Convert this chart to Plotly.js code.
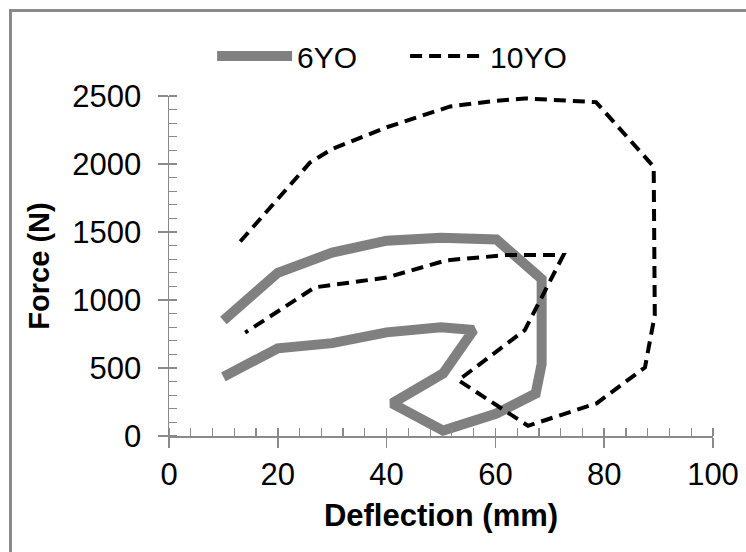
<!DOCTYPE html>
<html>
<head>
<meta charset="utf-8">
<script src="https://cdn.plot.ly/plotly-3.0.1.min.js"></script>
<style>
html,body{margin:0;padding:0;background:#fff;}
#wrap{position:relative;width:746px;height:552px;overflow:hidden;}
#chart{position:absolute;left:0;top:0;width:746px;height:552px;}
#frame{position:absolute;left:9px;top:9px;width:760px;height:570px;border:3px solid #8a8a8a;box-sizing:border-box;pointer-events:none;}
</style>
</head>
<body>
<div id="wrap"><div id="chart"></div><div id="frame"></div></div>
<script>
// Data
const seriesNames = ["6YO", "10YO"];
const defl6 = [10, 20, 30, 40, 50, 56, 50.4, 41, 50.4, 60.2, 67.4, 68.5, 68.5, 60.2, 50, 40, 30, 20, 10];
const force6 = [435, 645, 683, 762, 800, 780, 460, 240, 40, 165, 312, 530, 1155, 1445, 1458, 1436, 1348, 1200, 850];
const defl10 = [13.1, 25.9, 30, 40, 51.7, 59, 65.4, 78.5, 89.1, 89.3, 87.5, 78.6, 66, 53.2, 65.4, 72.5, 62, 51, 40, 30, 26.8, 14];
const force10 = [1430, 2010, 2110, 2270, 2423, 2460, 2482, 2455, 1980, 890, 505, 240, 75, 410, 778, 1330, 1330, 1292, 1165, 1110, 1093, 760];
const xTitle = "Deflection (mm)";
const yTitle = "Force (N)";

const axisColor = "#8a8a8a";
const fontFam = "Liberation Sans, Arial, sans-serif";

const traces = [
  {x: defl6, y: force6, name: seriesNames[0], type: "scatter", mode: "lines",
   line: {color: "#808080", width: 10}},
  {x: defl10, y: force10, name: seriesNames[1], type: "scatter", mode: "lines",
   line: {color: "#000000", width: 4, dash: "12px,7px"}},
  // invisible helper on overlay axes (for inner half of major ticks)
  {x: [0], y: [0], xaxis: "x2", yaxis: "y2", mode: "markers", marker: {opacity: 0}, showlegend: false, hoverinfo: "skip"}
];

const layout = {
  width: 746, height: 552,
  margin: {l: 169, r: 33, t: 96, b: 116},
  paper_bgcolor: "#ffffff", plot_bgcolor: "#ffffff",
  font: {family: fontFam, color: "#000"},
  showlegend: true,
  legend: {orientation: "h", x: 0.434, xanchor: "center", y: 1.118, yanchor: "middle",
           font: {family: fontFam, size: 30, color: "#000"}, itemwidth: 75, entrywidth: 103,
           bgcolor: "rgba(0,0,0,0)"},
  xaxis: {range: [0, 100], dtick: 20, tick0: 0, showgrid: false, zeroline: false,
          showline: true, linecolor: axisColor, linewidth: 1.5,
          ticks: "outside", ticklen: 10, tickwidth: 1.5, tickcolor: axisColor,
          minor: {dtick: 4, ticks: "inside", ticklen: 8, tickwidth: 1.2, tickcolor: axisColor},
          tickfont: {family: fontFam, size: 31, color: "#000"},
          title: {text: xTitle, font: {family: fontFam, size: 31, color: "#000", weight: "bold"}, standoff: 13},
          fixedrange: true},
  yaxis: {range: [0, 2500], dtick: 500, tick0: 0, showgrid: false, zeroline: false,
          showline: true, linecolor: axisColor, linewidth: 1.5,
          ticks: "outside", ticklen: 10, tickwidth: 1.5, tickcolor: axisColor,
          minor: {dtick: 100, ticks: "inside", ticklen: 8, tickwidth: 1.2, tickcolor: axisColor},
          tickfont: {family: fontFam, size: 31, color: "#000"}, ticklabelstandoff: 10,
          title: {text: yTitle, font: {family: fontFam, size: 29, color: "#000", weight: "bold"}, standoff: 14},
          fixedrange: true},
  xaxis2: {overlaying: "x", range: [0, 100], dtick: 20, tick0: 0, showgrid: false, zeroline: false,
           showline: false, ticks: "inside", ticklen: 8, tickwidth: 1.5, tickcolor: axisColor,
           showticklabels: false, side: "bottom", anchor: "y2", fixedrange: true},
  yaxis2: {overlaying: "y", range: [0, 2500], dtick: 500, tick0: 0, showgrid: false, zeroline: false,
           showline: false, ticks: "inside", ticklen: 8, tickwidth: 1.5, tickcolor: axisColor,
           showticklabels: false, side: "left", anchor: "x2", fixedrange: true}
};

Plotly.newPlot("chart", traces, layout, {displayModeBar: false, staticPlot: true});
</script>
</body>
</html>
